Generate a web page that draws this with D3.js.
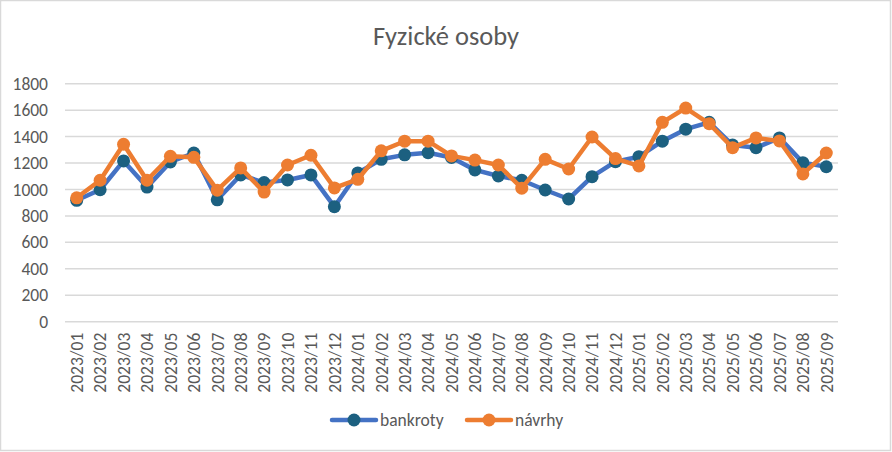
<!DOCTYPE html>
<html>
<head>
<meta charset="utf-8">
<script src="https://cdn.jsdelivr.net/npm/d3@7"></script>
<style>
  html, body { margin: 0; padding: 0; background: #fff; }
  svg text { font-family: Carlito, Calibri, Lato, sans-serif; fill: #595959; }
</style>
</head>
<body>
<div id="chart"></div>
<script>
// months on the x axis
var months = [
  '2023/01', '2023/02', '2023/03', '2023/04', '2023/05', '2023/06',
  '2023/07', '2023/08', '2023/09', '2023/10', '2023/11', '2023/12',
  '2024/01', '2024/02', '2024/03', '2024/04', '2024/05', '2024/06',
  '2024/07', '2024/08', '2024/09', '2024/10', '2024/11', '2024/12',
  '2025/01', '2025/02', '2025/03', '2025/04', '2025/05', '2025/06',
  '2025/07', '2025/08', '2025/09'
];

// values
var bankroty = [
  918, 998, 1216, 1018, 1208, 1276, 922, 1110, 1052, 1072, 1110, 870,
  1125, 1228, 1262, 1278, 1242, 1148, 1102, 1070, 996, 928, 1097, 1210,
  1248, 1365, 1456, 1508, 1336, 1316, 1390, 1203, 1172
];

var navrhy = [
  937, 1070, 1342, 1070, 1251, 1243, 995, 1163, 980, 1185, 1259, 1012,
  1077, 1292, 1365, 1365, 1254, 1222, 1185, 1010, 1228, 1155, 1397, 1234,
  1178, 1508, 1616, 1498, 1316, 1390, 1367, 1118, 1276
];

var yTicks = [0, 200, 400, 600, 800, 1000, 1200, 1400, 1600, 1800];

var seriesList = [
  { name: 'bankroty', values: bankroty, line: '#4472c4', marker: '#1c6080' },
  { name: 'návrhy', values: navrhy, line: '#ed7d31', marker: '#ed7d31' }
];

var width = 892,
    height = 452,
    margin = { top: 83.7, right: 54, bottom: 130.3, left: 65 },
    labelSize = '17.5px';

var svg = d3.select('#chart')
  .append('svg')
  .attr('width', width)
  .attr('height', height);

// outer frame
svg.append('rect')
  .attr('x', 0.5)
  .attr('y', 0.5)
  .attr('width', width - 2)
  .attr('height', height - 2)
  .attr('fill', '#fff')
  .attr('stroke', '#d9d9d9')
  .attr('stroke-width', 1.5);

svg.append('text')
  .attr('x', width / 2)
  .attr('y', 45)
  .attr('text-anchor', 'middle')
  .style('font-size', '26.5px')
  .text('Fyzické osoby');

var x = d3.scaleBand()
  .domain(months)
  .range([margin.left, width - margin.right]);

var y = d3.scaleLinear()
  .domain([0, 1800])
  .range([height - margin.bottom, margin.top]);

// gridlines
svg.append('g')
  .selectAll('line')
  .data(yTicks)
  .join('line')
  .attr('x1', margin.left)
  .attr('x2', width - margin.right)
  .attr('y1', function(d) { return y(d); })
  .attr('y2', function(d) { return y(d); })
  .attr('stroke', '#d9d9d9')
  .attr('stroke-width', 1.5);

// y axis labels
var yAxis = d3.axisLeft(y)
  .tickValues(yTicks)
  .tickFormat(d3.format('d'))
  .tickSize(0)
  .tickPadding(17);

svg.append('g')
  .attr('transform', 'translate(' + margin.left + ',0)')
  .call(yAxis)
  .call(function(g) { g.select('.domain').remove(); })
  .selectAll('text')
  .style('font-size', labelSize)
  .attr('fill', '#595959');

// x axis labels, rotated
var xAxis = d3.axisBottom(x).tickSize(0);

svg.append('g')
  .attr('transform', 'translate(0,' + (height - margin.bottom) + ')')
  .call(xAxis)
  .call(function(g) { g.select('.domain').remove(); })
  .selectAll('text')
  .style('font-size', labelSize)
  .attr('fill', '#595959')
  .attr('text-anchor', 'end')
  .attr('transform', 'rotate(-90)')
  .attr('x', -11)
  .attr('y', 0)
  .attr('dy', '0.36em');

var line = d3.line()
  .x(function(d, i) { return x(months[i]) + x.bandwidth() / 2; })
  .y(function(d) { return y(d); });

seriesList.forEach(function(s) {
  var g = svg.append('g');
  g.append('path')
    .datum(s.values)
    .attr('d', line)
    .attr('fill', 'none')
    .attr('stroke', s.line)
    .attr('stroke-width', 4.5)
    .attr('stroke-linejoin', 'round')
    .attr('stroke-linecap', 'round');
  g.selectAll('circle')
    .data(s.values)
    .join('circle')
    .attr('cx', function(d, i) { return x(months[i]) + x.bandwidth() / 2; })
    .attr('cy', function(d) { return y(d); })
    .attr('r', 6.5)
    .attr('fill', s.marker);
});

// legend
var legendX = [332, 467],
    legendY = 420;

var legend = svg.append('g')
  .selectAll('g')
  .data(seriesList)
  .join('g')
  .attr('transform', function(d, i) { return 'translate(' + legendX[i] + ',' + legendY + ')'; });

legend.append('line')
  .attr('x1', 0)
  .attr('x2', 44)
  .attr('stroke', function(d) { return d.line; })
  .attr('stroke-width', 4.5)
  .attr('stroke-linecap', 'round');

legend.append('circle')
  .attr('cx', 22)
  .attr('r', 6.5)
  .attr('fill', function(d) { return d.marker; });

legend.append('text')
  .attr('x', 48)
  .attr('dy', '0.36em')
  .style('font-size', labelSize)
  .text(function(d) { return d.name; });
</script>
</body>
</html>
